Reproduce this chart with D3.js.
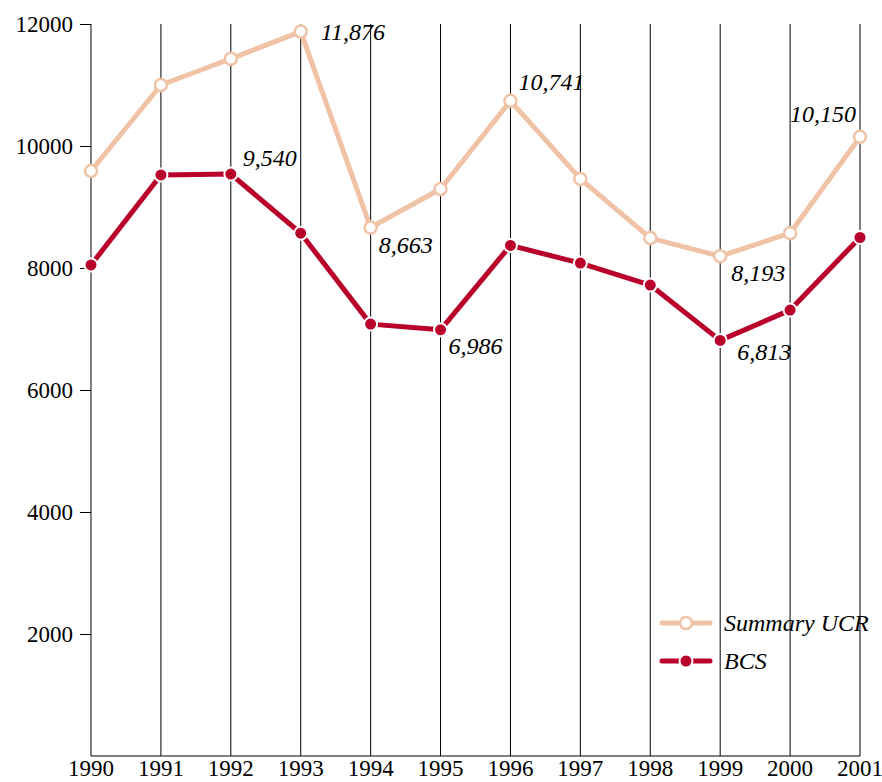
<!DOCTYPE html>
<html><head><meta charset="utf-8">
<script src="https://cdn.jsdelivr.net/npm/d3@7"></script>
<style>body{margin:0;background:#fff}svg{display:block}</style>
</head><body><svg id="c" width="882" height="782"></svg>
<script>
const years = [1990,1991,1992,1993,1994,1995,1996,1997,1998,1999,2000,2001];
const ucr = [9590,11000,11430,11876,8663,9295,10741,9460,8490,8193,8570,10150];
const bcs = [8050,9525,9540,8570,7080,6986,8370,8080,7720,6813,7310,8500];
const yTicks = [2000,4000,6000,8000,10000,12000];
const seriesNames = ["Summary UCR","BCS"];
// annotations: [series, year index, label]
const labels = [
  ["ucr",3,"11,876"],["bcs",2,"9,540"],["ucr",4,"8,663"],["bcs",5,"6,986"],
  ["ucr",6,"10,741"],["ucr",9,"8,193"],["bcs",9,"6,813"],["ucr",11,"10,150"]
];
const offsets = {"ucr3":[20,8,"start"],"bcs2":[12,-8,"start"],"ucr4":[8,25,"start"],"bcs5":[8,24,"start"],
  "ucr6":[8,-11,"start"],"ucr9":[11,25,"start"],"bcs9":[17,20,"start"],"ucr11":[-4,-15,"end"]};

const svg = d3.select("#c");
const font = "'Liberation Serif','Times New Roman',serif";
const x = d3.scaleLinear().domain([1990,2001]).range([91,860]);
const y = d3.scaleLinear().domain([0,12000]).range([756,24]);
const cU = "#f0c3a7", cB = "#b8002a";

// vertical gridlines
svg.append("g").selectAll("line").data(years.slice(1)).join("line")
  .attr("x1",d=>x(d)).attr("x2",d=>x(d)).attr("y1",y(12000)).attr("y2",y(0))
  .attr("stroke","#000").attr("stroke-width",1);
// bottom line
svg.append("line").attr("x1",x(1990)).attr("x2",x(2001)).attr("y1",y(0)).attr("y2",y(0)).attr("stroke","#000");

// y axis
const ya = svg.append("g").attr("transform",`translate(${x(1990)},0)`)
  .call(d3.axisLeft(y).tickValues(yTicks).tickSize(11).tickPadding(7).tickFormat(d3.format("d")));
ya.select(".domain").attr("d",`M0,${y(12000)}V${y(0)}`).attr("stroke","#000");
ya.selectAll("text").attr("font-family",font).attr("font-size",23).attr("fill","#000");

// x labels
svg.append("g").selectAll("text").data(years).join("text")
  .attr("x",d=>x(d)).attr("y",776).attr("text-anchor","middle")
  .attr("font-family",font).attr("font-size",23).text(d=>d);

const line = d3.line().x((d,i)=>x(years[i])).y(d=>y(d));
svg.append("path").datum(ucr).attr("d",line).attr("fill","none").attr("stroke",cU).attr("stroke-width",5).attr("stroke-linejoin","round");
svg.append("path").datum(bcs).attr("d",line).attr("fill","none").attr("stroke",cB).attr("stroke-width",5).attr("stroke-linejoin","round");

svg.append("g").selectAll("circle").data(ucr).join("circle")
  .attr("cx",(d,i)=>x(years[i])).attr("cy",d=>y(d)).attr("r",6)
  .attr("fill","#fff").attr("stroke",cU).attr("stroke-width",2.5);
svg.append("g").selectAll("circle").data(bcs).join("circle")
  .attr("cx",(d,i)=>x(years[i])).attr("cy",d=>y(d)).attr("r",6.5)
  .attr("fill",cB).attr("stroke","#fff").attr("stroke-width",2);

// annotations
svg.append("g").selectAll("text").data(labels).join("text")
  .attr("x",d=>x(years[d[1]])+offsets[d[0]+d[1]][0])
  .attr("y",d=>y((d[0]==="ucr"?ucr:bcs)[d[1]])+offsets[d[0]+d[1]][1])
  .attr("text-anchor",d=>offsets[d[0]+d[1]][2])
  .attr("font-family",font).attr("font-style","italic").attr("font-size",24)
  .text(d=>d[2]);

// legend
const lg = svg.append("g");
[[cU,"ucr"],[cB,"bcs"]].forEach((s,i)=>{
  const ly = 623 + i*38;
  lg.append("line").attr("x1",662).attr("x2",710).attr("y1",ly).attr("y2",ly).attr("stroke",s[0]).attr("stroke-width",5).attr("stroke-linecap","round");
  if(i===0) lg.append("circle").attr("cx",686).attr("cy",ly).attr("r",6).attr("fill","#fff").attr("stroke",cU).attr("stroke-width",2.5);
  else lg.append("circle").attr("cx",686).attr("cy",ly).attr("r",6.5).attr("fill",cB).attr("stroke","#fff").attr("stroke-width",2);
  lg.append("text").attr("x",724).attr("y",ly+8).attr("font-family",font).attr("font-style","italic").attr("font-size",24).text(seriesNames[i]);
});
</script></body></html>
